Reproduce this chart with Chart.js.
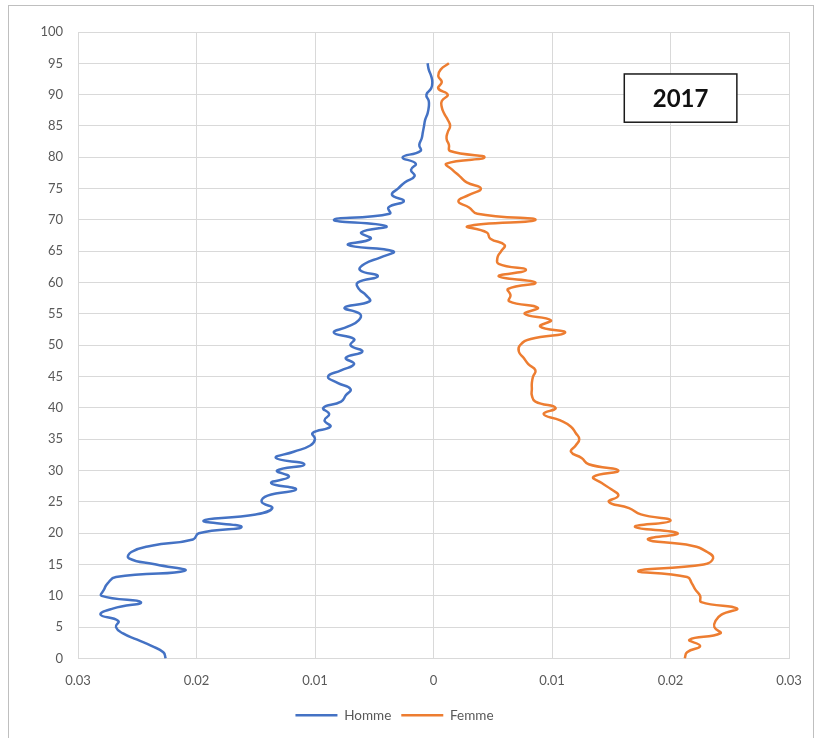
<!DOCTYPE html>
<html>
<head>
<meta charset="utf-8">
<script src="https://cdn.jsdelivr.net/npm/chart.js@4.4.1/dist/chart.umd.min.js"></script>
<style>
  html, body { margin: 0; padding: 0; background: #fff; }
  #wrap { position: relative; width: 823px; height: 738px; }
  #frame { position: absolute; left: 8px; top: 5px; width: 806px; height: 740px; border: 1px solid #bfbfbf; box-sizing: border-box; pointer-events: none; }
</style>
</head>
<body>
<div id="wrap">
  <canvas id="myChart" width="823" height="738"></canvas>
  <div id="frame"></div>
</div>
<script>
// age (years)
const ages = [
  0, 1, 2, 3, 4, 5, 6, 7, 8, 9, 10, 11, 12, 13, 14, 15, 16, 17, 18, 19,
  20, 21, 22, 23, 24, 25, 26, 27, 28, 29, 30, 31, 32, 33, 34, 35, 36, 37, 38, 39,
  40, 41, 42, 43, 44, 45, 46, 47, 48, 49, 50, 51, 52, 53, 54, 55, 56, 57, 58, 59,
  60, 61, 62, 63, 64, 65, 66, 67, 68, 69, 70, 71, 72, 73, 74, 75, 76, 77, 78, 79,
  80, 81, 82, 83, 84, 85, 86, 87, 88, 89, 90, 91, 92, 93, 94, 95
];

// share of population per age, men (drawn on the left side)
const homme = [
  0.0226, 0.0228, 0.0238, 0.0250, 0.0262, 0.0268, 0.0266, 0.0281, 0.0270, 0.0247,
  0.0280, 0.0278, 0.0275, 0.0268, 0.0210, 0.0234, 0.0257, 0.0255, 0.0238, 0.0203,
  0.0198, 0.0162, 0.0194, 0.0150, 0.0136, 0.0145, 0.0140, 0.0116, 0.0137, 0.0122,
  0.0132, 0.0109, 0.0133, 0.0118, 0.0104, 0.0100, 0.0102, 0.0087, 0.0092, 0.0088,
  0.0093, 0.0078, 0.0074, 0.0070, 0.0081, 0.0089, 0.0078, 0.0067, 0.0074, 0.0060,
  0.0070, 0.0067, 0.0084, 0.0072, 0.0063, 0.0062, 0.0075, 0.0054, 0.0057, 0.0063,
  0.0064, 0.0047, 0.0062, 0.0058, 0.0045, 0.0034, 0.0072, 0.0053, 0.0061, 0.0040,
  0.0084, 0.0037, 0.0038, 0.0025, 0.0035, 0.0030, 0.0024, 0.0016, 0.0019, 0.0015,
  0.0026, 0.0011, 0.0012, 0.0010, 0.0009, 0.0008, 0.0007, 0.0005, 0.0004, 0.0004,
  0.0006, 0.0002, 0.0001, 0.0002, 0.0004, 0.0005
];

// share of population per age, women
const femme = [
  0.0212, 0.0214, 0.0225, 0.0216, 0.0242, 0.0237, 0.0238, 0.0243, 0.0256, 0.0226,
  0.0225, 0.0221, 0.0218, 0.0214, 0.0173, 0.0228, 0.0236, 0.0231, 0.0218, 0.0181,
  0.0206, 0.0170, 0.0200, 0.0175, 0.0165, 0.0148, 0.0156, 0.0150, 0.0142, 0.0135,
  0.0156, 0.0131, 0.0125, 0.0116, 0.0120, 0.0123, 0.0120, 0.0116, 0.0107, 0.0093,
  0.0103, 0.0086, 0.0083, 0.0083, 0.0083, 0.0084, 0.0086, 0.0080, 0.0076, 0.0072,
  0.0073, 0.0082, 0.0111, 0.0090, 0.0099, 0.0077, 0.0088, 0.0064, 0.0065, 0.0063,
  0.0086, 0.0055, 0.0078, 0.0055, 0.0054, 0.0057, 0.0060, 0.0048, 0.0045, 0.0029,
  0.0086, 0.0037, 0.0030, 0.0021, 0.0030, 0.0040, 0.0028, 0.0022, 0.0016, 0.0011,
  0.0043, 0.0014, 0.0013, 0.0011, 0.0012, 0.0014, 0.0012, 0.0009, 0.0007, 0.0007,
  0.0012, 0.0004, 0.0007, 0.0004, 0.0006, 0.0013
];

const year = '2017';

const fontFam = 'Lato, "Liberation Sans", sans-serif';
const gridColor = '#d9d9d9';
const textColor = '#595959';

// year label box in the upper right of the plot
const yearBox = {
  id: 'yearBox',
  afterDraw(chart) {
    const { ctx, scales: { x, y } } = chart;
    const x1 = x.getPixelForValue(0.0161);
    const x2 = x.getPixelForValue(0.0256);
    const y1 = y.getPixelForValue(93.3);
    const y2 = y.getPixelForValue(85.6);
    ctx.save();
    ctx.fillStyle = '#fff';
    ctx.fillRect(x1, y1, x2 - x1, y2 - y1);
    ctx.strokeStyle = '#1a1a1a';
    ctx.lineWidth = 1.5;
    ctx.strokeRect(x1, y1, x2 - x1, y2 - y1);
    ctx.fillStyle = '#111';
    ctx.font = 'bold 24px ' + fontFam;
    ctx.textAlign = 'center';
    ctx.textBaseline = 'middle';
    ctx.fillText(year, (x1 + x2) / 2, (y1 + y2) / 2 + 1);
    ctx.restore();
  }
};

const ctx = document.getElementById('myChart');

new Chart(ctx, {
  type: 'scatter',
  data: {
    datasets: [{
      label: 'Homme',
      data: ages.map((a, i) => ({ x: -homme[i], y: a })),
      showLine: true,
      borderColor: '#4472C4',
      backgroundColor: '#4472C4',
      borderWidth: 2.5,
      pointRadius: 0,
      tension: 0.5
    },
    {
      label: 'Femme',
      data: ages.map((a, i) => ({ x: femme[i], y: a })),
      showLine: true,
      borderColor: '#ED7D31',
      backgroundColor: '#ED7D31',
      borderWidth: 2.5,
      pointRadius: 0,
      tension: 0.5
    }]
  },
  options: {
    responsive: false,
    animation: false,
    layout: {
      padding: { left: 0, top: 32, right: 34, bottom: 6 }
    },
    scales: {
      x: {
        type: 'linear',
        min: -0.03,
        max: 0.03,
        ticks: {
          stepSize: 0.01,
          padding: 15,
          color: textColor,
          font: { family: fontFam, size: 13 },
          callback: v => {
            const a = Math.abs(Math.round(v * 100) / 100);
            return a === 0 ? '0' : a.toFixed(2);
          }
        },
        grid: { color: gridColor, drawTicks: false },
        border: { color: gridColor },
        afterFit: s => { s.height = 40; }
      },
      y: {
        min: 0,
        max: 100,
        ticks: {
          stepSize: 5,
          padding: 15,
          color: textColor,
          font: { family: fontFam, size: 13 }
        },
        grid: { color: gridColor, drawTicks: false },
        border: { color: gridColor },
        afterFit: s => { s.width = 78; }
      }
    },
    plugins: {
      legend: {
        position: 'bottom',
        labels: {
          usePointStyle: true,
          pointStyle: 'line',
          pointStyleWidth: 42,
          boxHeight: 8,
          padding: 10,
          color: textColor,
          font: { family: fontFam, size: 13.5 }
        }
      },
      tooltip: { enabled: false }
    }
  },
  plugins: [yearBox]
});
</script>
</body>
</html>
